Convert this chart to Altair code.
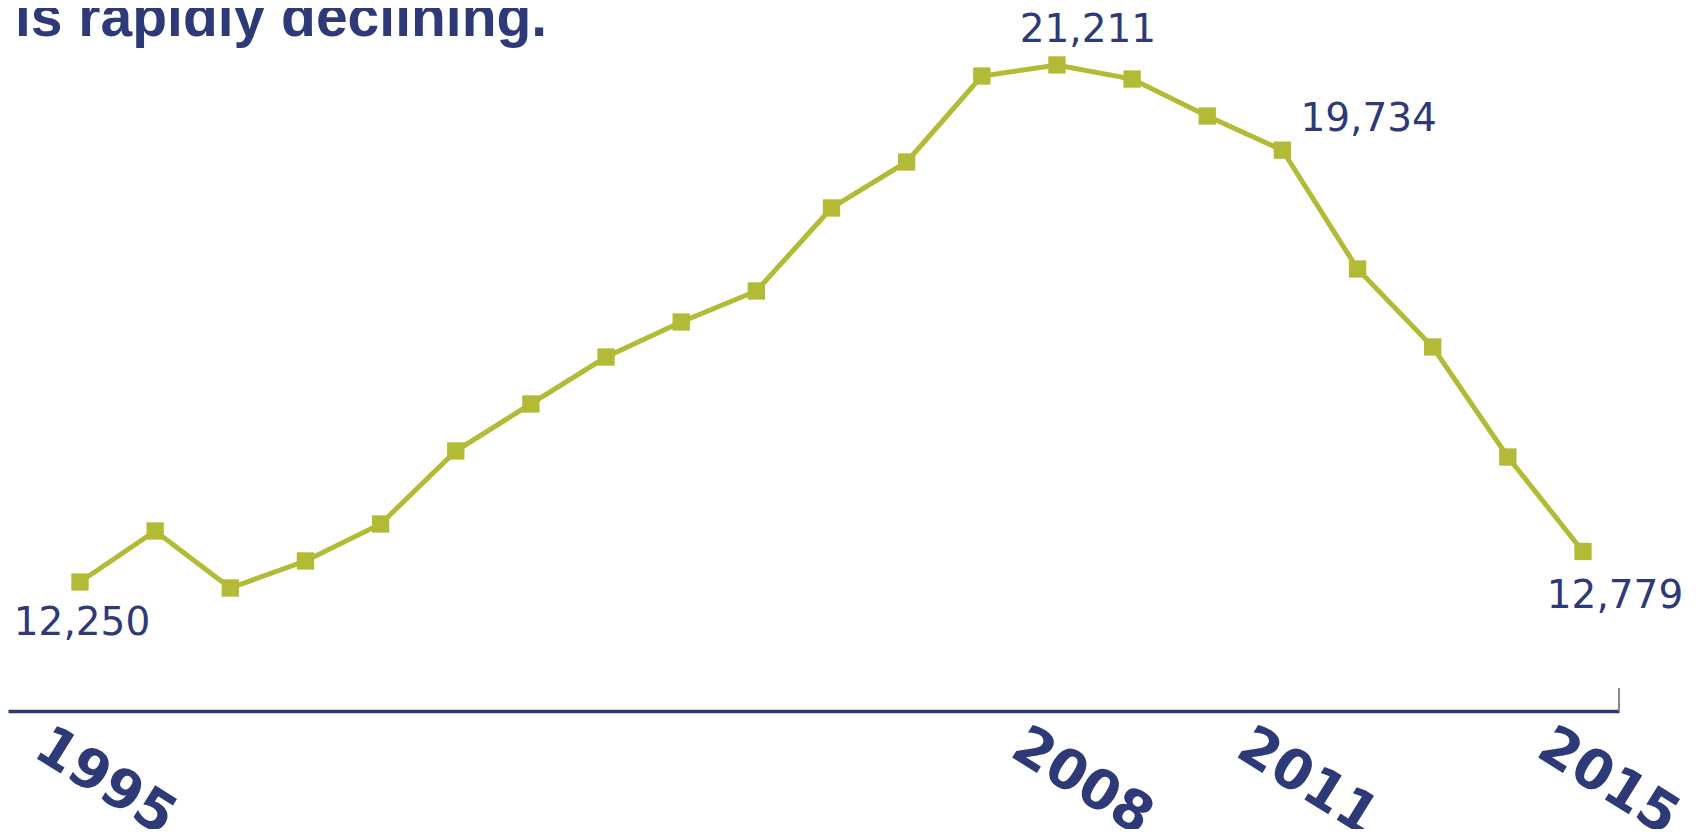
import altair as alt
import pandas as pd

years = list(range(1995, 2016))
values = [12250, 13134, 12146, 12614, 13255, 14520, 15335, 16149, 16756, 17293,
          18732, 19529, 21019, 21211, 20967, 20326, 19734, 17675, 16323, 14416, 12779]
label_years = [1995, 2008, 2011, 2015]
title_text = "is rapidly declining."

NAVY = "#2e3a78"
GREEN = "#b3ba35"

df = pd.DataFrame({"year": years, "value": values})
df["label"] = df["value"].map(lambda v: f"{v:,}")

W, H = 1611, 643

x = alt.X("year:Q",
          scale=alt.Scale(domain=[1994.042, 2015.479], nice=False, zero=False),
          axis=alt.Axis(values=label_years, format="d", title=None, grid=False,
                        ticks=False, tickSize=0, domainColor=NAVY, domainWidth=3.5,
                        labelFont="DejaVu Sans", labelFontWeight="bold", labelFontSize=55,
                        labelColor=NAVY, labelAngle=32, labelAlign="center",
                        labelBaseline="middle", labelPadding=70, labelOffset=25,
                        labelOverlap=False, labelFlush=False))
y = alt.Y("value:Q", scale=alt.Scale(domain=[10014, 21158], nice=False, zero=False),
          axis=None)

base = alt.Chart(df)

line = base.mark_line(color=GREEN, strokeWidth=5).encode(x=x, y=y)
pts = base.mark_point(shape="square", filled=True, size=300, color=GREEN, opacity=1).encode(x=x, y=y)

def lab(yr, align, dx, dy):
    return base.transform_filter(alt.datum.year == yr).mark_text(
        font="DejaVu Sans", fontSize=39, color=NAVY, align=align,
        baseline="alphabetic", dx=dx, dy=dy).encode(x=x, y=y, text="label:N")

labels = [lab(1995, "center", 2, 53), lab(2008, "center", 31, -23),
          lab(2011, "left", 18, -19), lab(2015, "center", 32, 57)]

endtick = alt.Chart(df).mark_rule(color="#888888", strokeWidth=2).encode(
    x=alt.value(W), y=alt.value(H - 23), y2=alt.value(H))

title = alt.Chart(pd.DataFrame({"t": [title_text]})).mark_text(
    font="Liberation Sans", fontWeight="bold", fontSize=57, color=NAVY,
    align="left", baseline="alphabetic").encode(
    text="t:N", x=alt.value(7), y=alt.value(-32))

chart = alt.layer(line, pts, *labels, endtick, title).properties(
    width=W, height=H,
    autosize=alt.AutoSizeParams(type="none"),
    padding={"left": 0, "top": 60, "right": 72, "bottom": 118},
    background="white",
).configure_view(stroke=None)

chart.save("out.html", embed_options={"renderer": "svg", "actions": False})
